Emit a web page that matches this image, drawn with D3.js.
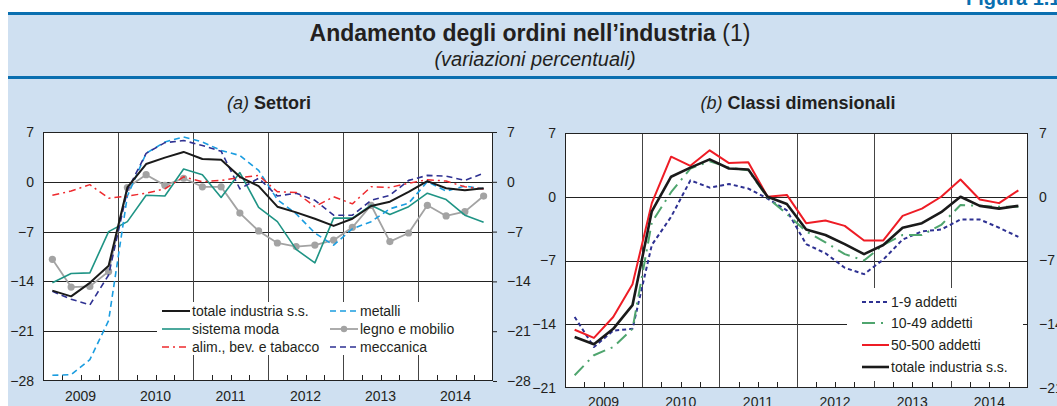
<!DOCTYPE html>
<html>
<head>
<meta charset="utf-8">
<script src="https://cdn.jsdelivr.net/npm/d3@7"></script>
<style>
  body { margin: 0; background: #fff; }
  svg { display: block; font-family: "Liberation Sans", Arial, sans-serif; }
</style>
</head>
<body>
<div class="chart"></div>
<script>
// Quarterly data, 2009 Q1 - 2014 Q4
var years = ["2009", "2010", "2011", "2012", "2013", "2014"];
var quarters = [];
years.forEach(function(yr) {
  ["T1", "T2", "T3", "T4"].forEach(function(q) { quarters.push(yr + q); });
});

// (a) Settori
var totaleA      = [-15.3, -16.1, -14.2, -11.8, -0.8, 2.5, 3.4, 4.2, 3.2, 3.1, 0.7, -0.6, -3.5, -4.3, -5.2, -6.2, -5.2, -3.4, -2.8, -1.4, 0.1, -0.9, -1.2, -0.9];
var sistemaModa  = [-14.2, -12.9, -12.8, -7.0, -5.6, -1.9, -2.0, 1.8, 1.0, -2.2, 1.3, -3.6, -5.6, -9.5, -11.4, -5.1, -5.1, -3.3, -4.6, -3.5, -1.6, -2.5, -4.7, -5.7];
var alimBev      = [-1.9, -1.3, -0.4, -2.3, -2.0, -1.6, -1.0, 0.7, 0.0, 0.2, 0.6, 0.9, -1.4, -1.5, -3.5, -2.1, -3.1, -0.7, -0.8, -0.2, 0.3, 0.1, -0.7, -1.0];
var metalli      = [-27.2, -27.1, -25.0, -19.5, -2.0, 4.0, 5.6, 6.3, 5.6, 4.4, 3.7, 1.6, -2.5, -4.5, -7.2, -8.9, -6.6, -5.6, -3.8, -3.0, 0.0, -1.3, -0.6, -1.0];
var legnoMobilio = [-10.9, -14.8, -14.7, -12.6, -0.8, 1.0, -0.5, 0.5, -0.7, -0.7, -4.4, -6.9, -8.6, -9.1, -8.9, -8.2, -6.4, -3.3, -8.4, -7.2, -3.3, -4.8, -4.2, -2.0];
var meccanica    = [-15.4, -16.5, -17.3, -13.1, -1.2, 4.0, 5.5, 5.8, 5.1, 4.3, -1.0, 0.5, -2.0, -1.6, -2.6, -4.7, -4.7, -2.6, -1.9, 0.2, 0.9, 0.8, 0.2, 1.2];
var ticksA = [-28, -21, -14, -7, 0, 7];

// (b) Classi dimensionali
var addetti1_9    = [-13.2, -16.5, -14.7, -14.5, -5.3, -2.2, 1.8, 1.0, 1.4, 0.9, -0.2, -1.5, -5.2, -6.2, -7.8, -8.5, -6.9, -4.7, -3.8, -3.6, -2.5, -2.5, -3.4, -4.4];
var addetti10_49  = [-19.6, -17.4, -16.5, -14.5, -2.8, 0.5, 3.1, 3.9, 3.2, 2.9, -0.1, -1.9, -3.8, -5.0, -6.3, -7.0, -5.3, -4.2, -4.2, -3.1, -0.9, -1.0, -1.1, -1.1];
var addetti50_500 = [-14.6, -15.5, -13.2, -9.6, -0.7, 4.4, 3.4, 5.1, 3.7, 3.8, 0.0, 0.2, -2.9, -2.6, -3.2, -4.8, -4.8, -2.1, -1.3, 0.0, 1.9, -0.3, -0.7, 0.7];
var totaleB       = [-15.4, -16.2, -14.5, -11.9, -1.6, 2.2, 3.2, 4.1, 3.1, 3.0, 0.0, -0.8, -3.6, -4.2, -5.2, -6.3, -5.3, -3.4, -2.9, -1.7, 0.0, -1.0, -1.3, -1.0];
var ticksB = [-21, -14, -7, 0, 7];

var textColor = "#231f20";

var svg = d3.select(".chart")
  .append("svg")
  .attr("width", 1057)
  .attr("height", 406);

// background and header band
svg.append("rect")
  .attr("x", 8).attr("y", 12)
  .attr("width", 1049).attr("height", 394)
  .attr("fill", "#cfe0f1");

[13.5, 77.5].forEach(function(yy) {
  svg.append("line")
    .attr("x1", 8).attr("x2", 1057)
    .attr("y1", yy).attr("y2", yy)
    .attr("stroke", "#0a6fb0")
    .attr("stroke-width", 3);
});

svg.append("text")
  .attr("x", 966).attr("y", 5)
  .attr("font-size", 20).attr("font-weight", "bold")
  .attr("fill", "#0a6fb0")
  .text("Figura 1.1");

var title = svg.append("text")
  .attr("x", 530).attr("y", 41)
  .attr("text-anchor", "middle")
  .attr("font-size", 23)
  .attr("fill", textColor);
title.append("tspan").attr("font-weight", "bold").text("Andamento degli ordini nell\u2019industria");
title.append("tspan").text(" (1)");

svg.append("text")
  .attr("x", 535).attr("y", 66)
  .attr("text-anchor", "middle")
  .attr("font-size", 20)
  .attr("font-style", "italic")
  .attr("fill", textColor)
  .text("(variazioni percentuali)");

//__________________________________________________________________________________
function drawPanel(p) {
  var x = d3.scaleBand().domain(quarters).range([p.left, p.right]);
  var xYear = d3.scaleBand().domain(years).range([p.left, p.right]);
  var y = d3.scaleLinear().domain([p.ticks[0], p.ticks[p.ticks.length - 1]]).range([p.bottom, p.top]);
  var g = svg.append("g");

  // panel title
  var t = g.append("text")
    .attr("x", p.titleX).attr("y", 109)
    .attr("text-anchor", "middle")
    .attr("font-size", 18)
    .attr("fill", textColor);
  t.append("tspan").attr("font-style", "italic").text(p.titleA);
  t.append("tspan").attr("font-weight", "bold").text(" " + p.titleB);

  g.append("rect")
    .attr("x", p.left).attr("y", p.top)
    .attr("width", p.right - p.left).attr("height", p.bottom - p.top)
    .attr("fill", "#fff");

  // horizontal grid
  g.selectAll(".hgrid")
    .data(p.ticks.slice(1, -1))
    .enter().append("line")
    .attr("x1", p.left).attr("x2", p.right)
    .attr("y1", d => Math.round(y(d)) + 0.5).attr("y2", d => Math.round(y(d)) + 0.5)
    .attr("stroke", "#222");

  // year separators
  g.selectAll(".vgrid")
    .data(years.slice(1))
    .enter().append("line")
    .attr("x1", d => Math.round(xYear(d)) + 0.5).attr("x2", d => Math.round(xYear(d)) + 0.5)
    .attr("y1", p.top).attr("y2", p.bottom)
    .attr("stroke", "#444");

  // legend box covers grid
  g.append("rect")
    .attr("x", p.legend.x).attr("y", p.legend.y)
    .attr("width", p.legend.w).attr("height", p.legend.h)
    .attr("fill", "#fff");

  // quarter ticks
  g.selectAll(".qtick")
    .data(quarters.filter((q, i) => i % 4 !== 0))
    .enter().append("line")
    .attr("x1", d => Math.round(x(d)) + 0.5).attr("x2", d => Math.round(x(d)) + 0.5)
    .attr("y1", p.bottom - 6).attr("y2", p.bottom)
    .attr("stroke", "#222");

  var line = d3.line()
    .x((d, i) => x(quarters[i]) + x.bandwidth() / 2)
    .y(d => y(d));

  p.series.forEach(function(s) {
    g.append("path")
      .datum(s.values)
      .attr("fill", "none")
      .attr("stroke", s.color)
      .attr("stroke-width", s.width)
      .attr("stroke-dasharray", s.dash || null)
      .attr("stroke-linejoin", "round")
      .attr("d", line);
    if (s.marker) {
      g.selectAll(null)
        .data(s.values)
        .enter().append("circle")
        .attr("cx", (d, i) => x(quarters[i]) + x.bandwidth() / 2)
        .attr("cy", d => y(d))
        .attr("r", 3.6)
        .attr("fill", s.color);
    }
  });

  // plot border
  g.append("rect")
    .attr("x", p.left + 0.5).attr("y", p.top + 0.5)
    .attr("width", p.right - p.left - 1).attr("height", p.bottom - p.top - 1)
    .attr("fill", "none")
    .attr("stroke", "#222");

  // legend entries
  p.legendItems.forEach(function(it) {
    var s = it.s;
    g.append("line")
      .attr("x1", it.x).attr("x2", it.x + p.legend.sample)
      .attr("y1", it.y).attr("y2", it.y)
      .attr("stroke", s.color)
      .attr("stroke-width", s.width)
      .attr("stroke-dasharray", s.dash || null);
    if (s.marker) {
      g.append("circle")
        .attr("cx", it.x + p.legend.sample / 2).attr("cy", it.y)
        .attr("r", 3.2).attr("fill", s.color);
    }
    g.append("text")
      .attr("x", it.x + p.legend.sample + 2).attr("y", it.y)
      .attr("dy", "0.35em")
      .attr("font-size", 14)
      .attr("fill", textColor)
      .text(s.name);
  });

  // axes
  var leftAxis = d3.axisLeft(y).tickValues(p.ticks).tickSize(0).tickPadding(p.padLeft);
  var rightAxis = d3.axisRight(y).tickValues(p.ticks).tickSize(p.rightTick).tickPadding(p.padRight);
  var bottomAxis = d3.axisBottom(xYear).tickSize(0).tickPadding(p.padBottom);

  [g.append("g").attr("transform", `translate(${p.left}, 0)`).call(leftAxis),
   g.append("g").attr("transform", `translate(${p.right}, 0)`).call(rightAxis),
   g.append("g").attr("transform", `translate(0, ${p.bottom})`).call(bottomAxis)
  ].forEach(function(ax) {
    ax.select(".domain").remove();
    ax.selectAll("text")
      .attr("font-size", 14)
      .attr("font-family", "\"Liberation Sans\", Arial, sans-serif")
      .attr("fill", textColor);
    ax.selectAll("line").attr("stroke", "#222");
  });
}

//__________________________________________________________________________________
var sTotA = { name: "totale industria s.s.", values: totaleA, color: "#1a1a1a", width: 2 };
var sModa = { name: "sistema moda", values: sistemaModa, color: "#1f9485", width: 1.6 };
var sAlim = { name: "alim., bev. e tabacco", values: alimBev, color: "#ee2a2e", width: 1.5, dash: "7,4,2,4" };
var sMet  = { name: "metalli", values: metalli, color: "#1b9de0", width: 1.6, dash: "6,4" };
var sLeg  = { name: "legno e mobilio", values: legnoMobilio, color: "#a3a3a3", width: 1.8, marker: true };
var sMec  = { name: "meccanica", values: meccanica, color: "#2e3192", width: 1.6, dash: "6,4" };

drawPanel({
  left: 43, right: 493, top: 132, bottom: 381,
  ticks: ticksA,
  titleX: 269, titleA: "(a)", titleB: "Settori",
  padLeft: 9, rightTick: 4, padRight: 10, padBottom: 10,
  series: [sLeg, sModa, sMet, sMec, sAlim, sTotA],
  legend: { x: 157, y: 302, w: 336, h: 53, sample: 28 },
  legendItems: [
    { s: sTotA, x: 162, y: 311 },
    { s: sModa, x: 162, y: 329 },
    { s: sAlim, x: 162, y: 347 },
    { s: sMet,  x: 330, y: 311 },
    { s: sLeg,  x: 330, y: 329 },
    { s: sMec,  x: 330, y: 347 }
  ]
});

var s19  = { name: "1-9 addetti", values: addetti1_9, color: "#2e3192", width: 2, dash: "4,3" };
var s10  = { name: "10-49 addetti", values: addetti10_49, color: "#4fa56e", width: 2, dash: "13,6,2,6" };
var s50  = { name: "50-500 addetti", values: addetti50_500, color: "#ee1c25", width: 2 };
var sTotB = { name: "totale industria s.s.", values: totaleB, color: "#1a1a1a", width: 2.6 };

drawPanel({
  left: 565, right: 1028, top: 133, bottom: 388,
  ticks: ticksB,
  titleX: 798, titleA: "(b)", titleB: "Classi dimensionali",
  padLeft: 9, rightTick: 0, padRight: 11, padBottom: 9,
  series: [s19, s10, s50, sTotB],
  legend: { x: 847, y: 288, w: 176, h: 93, sample: 27 },
  legendItems: [
    { s: s19,   x: 862, y: 302 },
    { s: s10,   x: 862, y: 323 },
    { s: s50,   x: 862, y: 345 },
    { s: sTotB, x: 862, y: 367 }
  ]
});
</script>
</body>
</html>
